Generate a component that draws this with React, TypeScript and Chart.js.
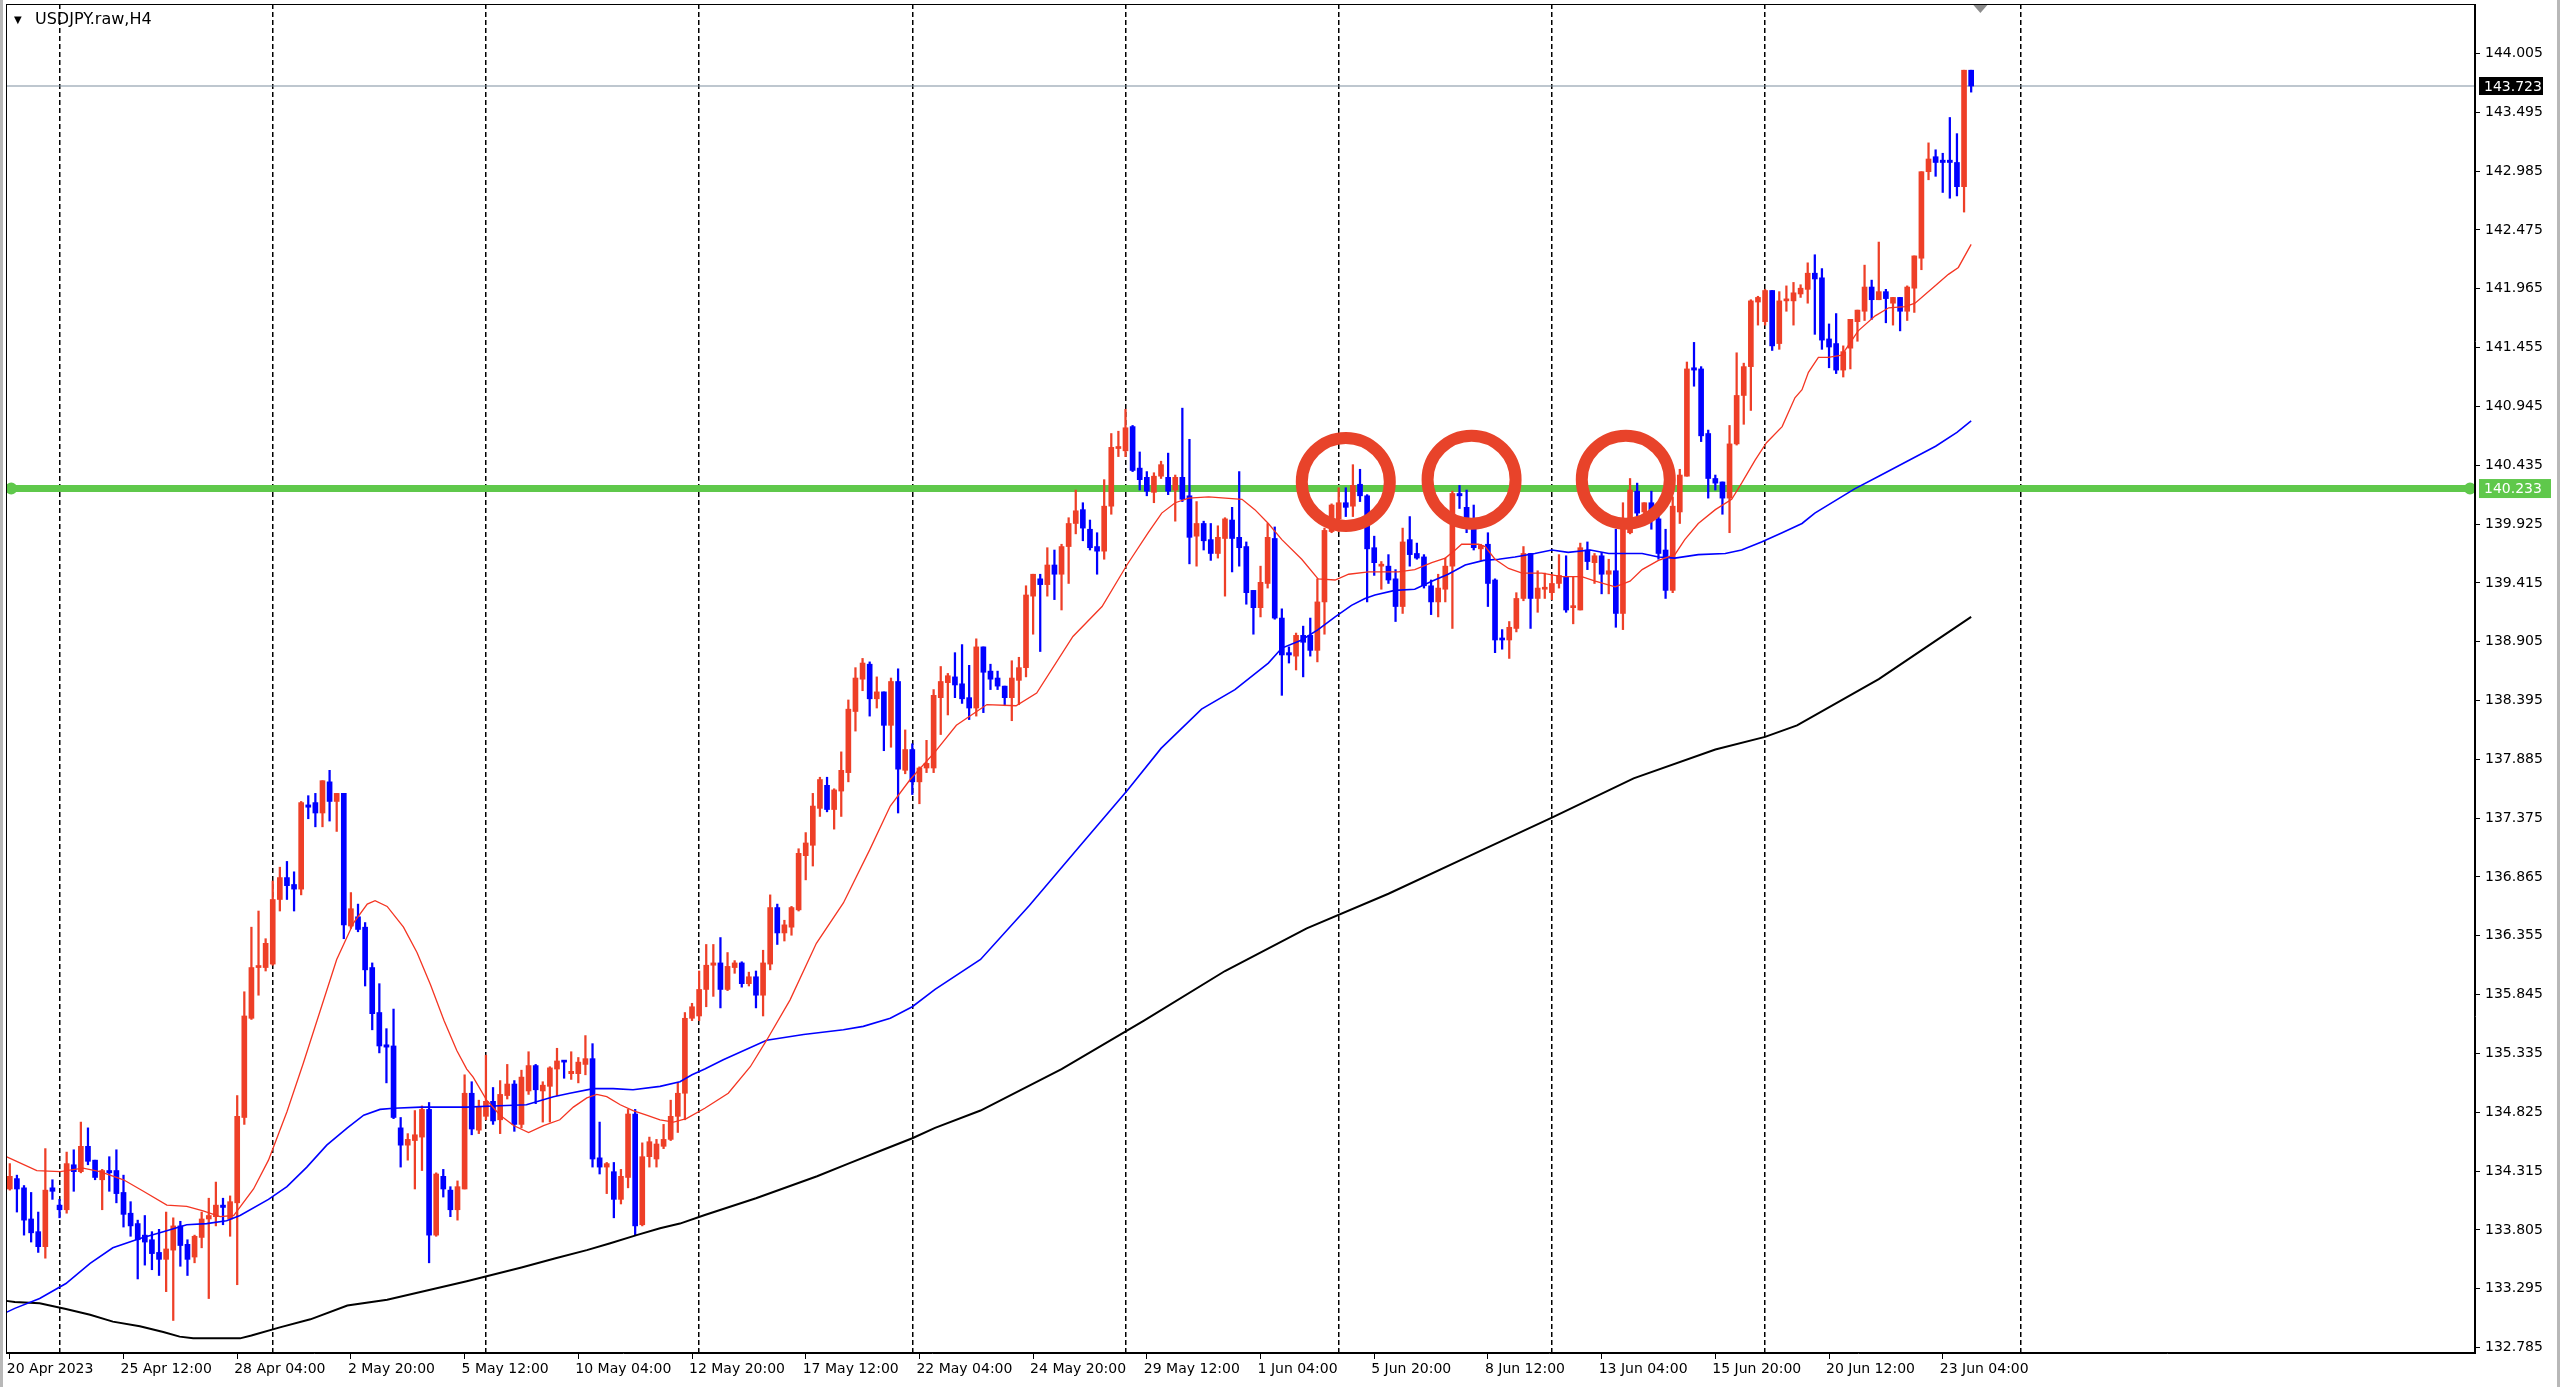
import React, { useEffect, useRef } from 'react';
import { Chart, registerables } from 'chart.js';

Chart.register(...registerables);

const TITLE = 'USDJPY.raw,H4';

const OPEN = [
  134.16, 134.25, 134.17, 133.90, 133.79, 133.66, 134.17, 134.02, 133.98, 134.37,
  134.31, 134.53, 134.41, 134.24, 134.32, 134.32, 134.13, 133.95, 133.86, 133.76,
  133.72, 133.61, 133.55, 133.63, 133.84, 133.68, 133.57, 133.74, 133.90, 133.92,
  134.02, 133.90, 134.04, 134.78, 135.64, 136.08, 136.08, 136.11, 136.67, 136.86,
  136.80, 136.76, 137.49, 137.51, 137.42, 137.69, 137.52, 137.59, 136.44, 136.52,
  136.43, 136.08, 135.69, 135.41, 135.40, 134.69, 134.54, 134.58, 134.61, 134.85,
  133.76, 134.27, 134.15, 133.98, 134.16, 134.99, 134.67, 134.79, 134.92, 134.76,
  134.97, 135.07, 134.72, 135.01, 135.23, 135.01, 135.05, 135.20, 135.27, 135.16,
  135.16, 135.24, 135.29, 134.43, 134.35, 134.31, 134.07, 134.26, 134.81, 133.85,
  134.44, 134.42, 134.53, 134.59, 134.79, 134.99, 135.64, 135.66, 135.89, 136.10,
  136.12, 135.89, 136.08, 136.12, 135.94, 136.00, 135.84, 136.11, 136.60, 136.38,
  136.43, 136.58, 137.05, 137.14, 137.46, 137.66, 137.45, 137.61, 137.77, 138.30,
  138.58, 138.71, 138.41, 138.47, 138.18, 138.56, 137.79, 137.97, 137.69, 137.81,
  137.81, 138.42, 138.55, 138.60, 138.54, 138.42, 138.33, 138.86, 138.65, 138.59,
  138.52, 138.42, 138.57, 138.68, 139.30, 139.45, 139.40, 139.57, 139.49, 139.73,
  139.93, 140.05, 139.88, 139.73, 139.69, 140.08, 140.58, 140.56, 140.77, 140.41,
  140.33, 140.20, 140.34, 140.33, 140.22, 140.33, 140.17, 139.82, 139.93, 139.79,
  139.67, 139.80, 139.96, 139.81, 139.73, 139.35, 139.20, 139.41, 139.80, 139.11,
  138.81, 138.78, 138.96, 138.96, 138.83, 139.25, 139.86, 139.97, 140.11, 140.08,
  140.27, 140.17, 139.72, 139.56, 139.56, 139.45, 139.21, 139.79, 139.67, 139.64,
  139.39, 139.25, 139.36, 139.56, 140.19, 140.07, 139.89, 139.71, 139.75, 139.44,
  138.93, 138.92, 139.02, 139.28, 139.67, 139.28, 139.36, 139.33, 139.41, 139.47,
  139.20, 139.18, 139.70, 139.59, 139.65, 139.49, 139.52, 139.15, 139.85, 140.21,
  140.03, 140.11, 139.97, 139.70, 139.35, 140.03, 140.34, 141.28, 141.27, 140.71,
  140.32, 140.29, 140.15, 140.62, 141.04, 141.29, 141.85, 141.68, 141.95, 141.49,
  141.86, 141.86, 141.92, 141.96, 142.10, 142.06, 141.53, 141.49, 141.26, 141.45,
  141.68, 141.77, 141.98, 141.87, 141.94, 141.84, 141.89, 141.77, 141.97, 142.23,
  142.98, 143.11, 143.08, 143.08, 143.06, 142.85, 143.86,
];

const HIGH = [
  134.38, 134.28, 134.19, 134.13, 133.96, 134.51, 134.24, 134.07, 134.48, 134.50,
  134.74, 134.69, 134.41, 134.33, 134.44, 134.50, 134.28, 134.05, 133.89, 133.93,
  133.79, 133.81, 133.96, 133.91, 133.88, 133.72, 133.76, 133.96, 134.08, 134.22,
  134.08, 134.10, 134.97, 135.87, 136.43, 136.57, 136.33, 136.83, 136.95, 137.00,
  136.91, 137.52, 137.57, 137.59, 137.70, 137.79, 137.59, 137.59, 136.73, 136.63,
  136.47, 136.12, 135.94, 135.55, 135.72, 134.78, 134.64, 134.84, 134.88, 134.91,
  134.30, 134.33, 134.18, 134.23, 135.15, 135.09, 134.93, 135.32, 135.04, 135.10,
  135.24, 135.10, 135.19, 135.35, 135.24, 135.09, 135.22, 135.38, 135.27, 135.35,
  135.30, 135.49, 135.42, 134.74, 134.39, 134.39, 134.33, 134.85, 134.85, 134.56,
  134.61, 134.59, 134.72, 134.93, 135.08, 135.69, 135.77, 136.05, 136.28, 136.28,
  136.34, 136.21, 136.14, 136.13, 136.04, 136.05, 136.23, 136.71, 136.63, 136.49,
  136.61, 137.11, 137.25, 137.59, 137.73, 137.73, 137.63, 137.95, 138.40, 138.68,
  138.76, 138.73, 138.60, 138.47, 138.59, 138.67, 138.14, 138.02, 137.82, 138.05,
  138.49, 138.69, 138.63, 138.81, 138.88, 138.70, 138.93, 138.86, 138.71, 138.65,
  138.52, 138.74, 138.77, 139.39, 139.49, 139.49, 139.72, 139.70, 139.75, 139.98,
  140.22, 140.11, 139.96, 139.85, 140.31, 140.71, 140.73, 140.92, 140.78, 140.55,
  140.38, 140.37, 140.47, 140.54, 140.35, 140.93, 140.66, 140.12, 139.95, 139.93,
  139.91, 139.98, 140.07, 140.38, 139.77, 139.35, 139.56, 139.93, 139.90, 139.19,
  138.86, 138.98, 139.04, 139.11, 139.45, 139.89, 140.10, 140.24, 140.24, 140.44,
  140.40, 140.18, 139.82, 139.60, 139.66, 139.53, 139.89, 139.99, 139.76, 139.66,
  139.44, 139.49, 139.63, 140.21, 140.26, 140.22, 140.09, 139.75, 139.85, 139.45,
  139.01, 139.08, 139.33, 139.73, 139.67, 139.52, 139.50, 139.49, 139.66, 139.65,
  139.47, 139.76, 139.77, 139.67, 139.68, 139.62, 139.88, 140.11, 140.32, 140.28,
  140.11, 140.21, 140.02, 139.88, 140.16, 140.40, 141.33, 141.50, 141.29, 140.74,
  140.35, 140.29, 140.78, 141.41, 141.32, 141.87, 141.90, 141.96, 141.95, 141.94,
  141.99, 142.02, 142.00, 142.19, 142.26, 142.14, 141.66, 141.75, 141.47, 141.70,
  141.78, 142.17, 142.04, 142.37, 141.96, 141.89, 141.89, 141.99, 142.25, 142.98,
  143.23, 143.17, 143.14, 143.45, 143.31, 143.86, 143.86,
];

const LOW = [
  134.15, 133.96, 133.76, 133.70, 133.61, 133.56, 134.07, 133.91, 133.95, 134.14,
  134.30, 134.37, 134.24, 133.98, 134.14, 134.04, 133.83, 133.75, 133.38, 133.50,
  133.46, 133.41, 133.27, 133.02, 133.49, 133.41, 133.52, 133.65, 133.21, 133.84,
  133.85, 133.75, 133.33, 134.72, 135.63, 135.84, 136.05, 136.10, 136.57, 136.67,
  136.57, 136.71, 137.37, 137.30, 137.30, 137.35, 137.26, 136.33, 136.42, 136.39,
  135.92, 135.54, 135.34, 135.08, 134.77, 134.35, 134.41, 134.16, 134.32, 133.52,
  133.75, 134.09, 133.92, 133.89, 134.16, 134.63, 134.64, 134.76, 134.72, 134.64,
  134.94, 134.66, 134.69, 134.98, 134.90, 134.74, 134.74, 134.97, 135.12, 135.11,
  135.08, 135.15, 134.35, 134.29, 134.12, 133.91, 134.03, 134.17, 133.76, 133.84,
  134.35, 134.35, 134.51, 134.58, 134.65, 134.76, 135.62, 135.62, 135.74, 135.83,
  135.73, 135.88, 136.03, 135.91, 135.92, 135.73, 135.66, 136.06, 136.28, 136.31,
  136.36, 136.57, 136.84, 136.96, 137.39, 137.43, 137.28, 137.39, 137.69, 138.13,
  138.48, 138.26, 138.33, 137.96, 137.99, 137.42, 137.76, 137.58, 137.50, 137.77,
  137.77, 138.10, 138.27, 138.42, 138.37, 138.23, 138.26, 138.29, 138.49, 138.49,
  138.35, 138.22, 138.36, 138.60, 138.97, 138.82, 139.30, 139.27, 139.18, 139.41,
  139.84, 139.78, 139.70, 139.49, 139.62, 140.01, 140.51, 140.51, 140.38, 140.22,
  140.17, 140.11, 140.32, 140.18, 139.95, 140.12, 139.58, 139.56, 139.70, 139.61,
  139.63, 139.30, 139.51, 139.56, 139.23, 138.97, 139.12, 139.37, 139.10, 138.44,
  138.72, 138.66, 138.60, 138.78, 138.73, 138.97, 139.85, 139.86, 139.99, 139.99,
  140.12, 139.25, 139.48, 139.36, 139.41, 139.08, 139.15, 139.56, 139.62, 139.37,
  139.14, 139.12, 139.25, 139.02, 140.06, 139.85, 139.70, 139.61, 139.21, 138.81,
  138.84, 138.76, 138.99, 139.26, 139.02, 139.16, 139.28, 139.27, 139.37, 139.16,
  139.06, 139.18, 139.53, 139.41, 139.32, 139.32, 139.03, 139.01, 139.84, 139.99,
  139.98, 139.88, 139.62, 139.28, 139.33, 139.93, 140.34, 141.12, 140.64, 140.15,
  140.22, 140.01, 139.85, 140.61, 140.79, 140.91, 141.65, 141.65, 141.43, 141.44,
  141.77, 141.65, 141.89, 141.84, 141.57, 141.44, 141.28, 141.23, 141.20, 141.27,
  141.51, 141.69, 141.70, 141.87, 141.67, 141.65, 141.60, 141.69, 141.76, 142.13,
  142.91, 142.94, 142.80, 142.75, 142.77, 142.63, 143.67,
];

const CLOSE = [
  134.27, 134.16, 133.89, 133.78, 133.66, 134.15, 134.14, 133.98, 134.38, 134.31,
  134.53, 134.40, 134.26, 134.32, 134.30, 134.12, 133.94, 133.84, 133.72, 133.70,
  133.60, 133.55, 133.64, 133.84, 133.67, 133.55, 133.75, 133.90, 133.93, 134.02,
  134.00, 134.05, 134.79, 135.66, 136.08, 136.09, 136.29, 136.67, 136.86, 136.79,
  136.76, 137.51, 137.47, 137.42, 137.70, 137.52, 137.59, 136.45, 136.59, 136.41,
  136.06, 135.68, 135.40, 135.39, 134.78, 134.54, 134.59, 134.63, 134.85, 133.76,
  134.29, 134.16, 133.98, 134.18, 134.99, 134.68, 134.87, 134.92, 134.75, 134.98,
  135.07, 134.72, 135.13, 135.23, 135.02, 135.06, 135.21, 135.27, 135.26, 135.18,
  135.26, 135.29, 134.42, 134.35, 134.38, 134.07, 134.27, 134.81, 133.84, 134.44,
  134.57, 134.55, 134.59, 134.79, 134.99, 135.64, 135.74, 135.89, 136.10, 136.12,
  135.89, 136.09, 136.12, 135.94, 136.00, 135.84, 136.12, 136.60, 136.38, 136.45,
  136.60, 137.07, 137.16, 137.48, 137.71, 137.45, 137.62, 137.79, 138.32, 138.59,
  138.72, 138.41, 138.47, 138.18, 138.56, 137.80, 137.97, 137.69, 137.81, 137.85,
  138.44, 138.56, 138.61, 138.53, 138.41, 138.33, 138.86, 138.64, 138.58, 138.52,
  138.42, 138.59, 138.68, 139.31, 139.49, 139.40, 139.57, 139.49, 139.73, 139.93,
  140.04, 139.89, 139.72, 139.69, 140.08, 140.59, 140.59, 140.76, 140.39, 140.31,
  140.21, 140.34, 140.44, 140.21, 140.33, 140.14, 139.81, 139.93, 139.78, 139.67,
  139.81, 139.97, 139.80, 139.72, 139.33, 139.20, 139.42, 139.81, 139.11, 138.79,
  138.79, 138.96, 138.90, 138.83, 139.25, 139.87, 140.09, 140.11, 140.07, 140.26,
  140.17, 139.71, 139.59, 139.57, 139.44, 139.21, 139.77, 139.66, 139.63, 139.39,
  139.25, 139.37, 139.56, 140.19, 140.17, 139.98, 139.72, 139.74, 139.41, 138.92,
  138.92, 139.03, 139.28, 139.67, 139.28, 139.37, 139.37, 139.41, 139.48, 139.18,
  139.21, 139.72, 139.60, 139.65, 139.49, 139.52, 139.15, 139.88, 140.22, 140.02,
  140.11, 139.97, 139.67, 139.35, 140.08, 140.35, 141.27, 141.26, 140.69, 140.32,
  140.28, 140.15, 140.62, 141.04, 141.29, 141.86, 141.89, 141.95, 141.47, 141.86,
  141.87, 141.93, 141.97, 142.10, 142.05, 141.52, 141.46, 141.26, 141.42, 141.70,
  141.78, 141.98, 141.87, 141.94, 141.88, 141.89, 141.77, 141.98, 142.25, 142.98,
  143.09, 143.06, 143.06, 143.06, 142.85, 143.86, 143.723,
];

// moving averages: [bar, price]
const RED_MA = [
  [-0.5, 134.44], [3.8, 134.32], [7.1, 134.31], [10.3, 134.34], [12.7, 134.31], [16, 134.24],
  [18.8, 134.14], [22.1, 134.02], [24.9, 134.01], [27.2, 133.97], [29.6, 133.92], [31.5, 133.93],
  [34.3, 134.16], [36.4, 134.41], [39, 134.83], [41.3, 135.25], [43.7, 135.71], [46, 136.15],
  [48.4, 136.47], [50.3, 136.63], [51.4, 136.66], [53.1, 136.61], [55.4, 136.43], [57.3, 136.21],
  [59.2, 135.93], [61.1, 135.62], [62.9, 135.36], [64.3, 135.2], [65.2, 135.13], [67.1, 134.93],
  [69, 134.8], [70.9, 134.71], [73, 134.65], [75.1, 134.71], [77.4, 134.76], [79.3, 134.87],
  [81.2, 134.95], [82.6, 134.98], [84, 134.96], [85.9, 134.89], [87.7, 134.84], [89.6, 134.8],
  [91.5, 134.76], [93.4, 134.74], [95.2, 134.77], [97.8, 134.86], [101.1, 134.99], [104.2, 135.22],
  [106.5, 135.45], [109.8, 135.8], [113.5, 136.29], [117.3, 136.64], [121, 137.1], [123.9, 137.48],
  [126.7, 137.71], [130.2, 137.95], [133.2, 138.18], [137.5, 138.36], [141.6, 138.35], [144.5, 138.46],
  [149.6, 138.95], [153.7, 139.21], [157.2, 139.57], [160.2, 139.85], [162.1, 140.02], [164, 140.11],
  [165.9, 140.15], [168.7, 140.16], [173.4, 140.14], [175.2, 140.05], [177.1, 139.93], [179, 139.79],
  [181.8, 139.62], [184.1, 139.45], [186.5, 139.44], [188.4, 139.49], [191.2, 139.51], [195.4, 139.51],
  [197.7, 139.53], [200.1, 139.59], [202, 139.63], [203.4, 139.7], [204.3, 139.75], [206.7, 139.75],
  [207.6, 139.73], [209, 139.62], [210.9, 139.54], [212.8, 139.5], [215.6, 139.5], [218.4, 139.47],
  [221.2, 139.47], [223.1, 139.43], [225.9, 139.38], [228, 139.43], [229.7, 139.53], [232, 139.61],
  [234.3, 139.66], [235.7, 139.79], [237.6, 139.93], [240, 140.05], [242.3, 140.14], [243.7, 140.28],
  [245.6, 140.48], [247.2, 140.63], [249.4, 140.77], [251.2, 141.02], [252.2, 141.09], [253.1, 141.24],
  [254.5, 141.37], [255.9, 141.37], [257.8, 141.39], [260.1, 141.6], [262.5, 141.73], [264.4, 141.8],
  [266.7, 141.81], [268.1, 141.84], [270.9, 141.99], [272.8, 142.09], [274.2, 142.15], [276, 142.35],
];

const BLUE_MA = [
  [-0.5, 133.09], [0.7, 133.125], [4.2, 133.21], [7.9, 133.34], [11.3, 133.515], [14.5, 133.65],
  [18.3, 133.73], [21.6, 133.79], [24.9, 133.85], [27.7, 133.86], [30.5, 133.885], [32.4, 133.93],
  [36.4, 134.07], [39, 134.18], [41.8, 134.35], [44.6, 134.54], [47.5, 134.69], [49.8, 134.8],
  [52.1, 134.85], [54, 134.86], [57.8, 134.87], [62.5, 134.87], [64.3, 134.87], [68, 134.88],
  [72.7, 134.89], [76.5, 134.96], [78.8, 134.99], [82.1, 135.03], [84.9, 135.03], [87.7, 135.02],
  [91.5, 135.05], [94.3, 135.09], [96, 135.15], [97.8, 135.2], [100.4, 135.28], [106.5, 135.45],
  [111.7, 135.5], [117.3, 135.54], [120.1, 135.57], [123.9, 135.64], [127, 135.74], [130.2, 135.89],
  [136.6, 136.15], [143.5, 136.62], [150.4, 137.12], [157.3, 137.62], [162, 137.98], [167.7, 138.32],
  [172.4, 138.49], [177.1, 138.72], [179, 138.85], [181.8, 138.92], [184.1, 139.01], [186.5, 139.12],
  [188.8, 139.22], [190.7, 139.28], [192.1, 139.31], [194.9, 139.35], [197.7, 139.36], [200.1, 139.43],
  [202.4, 139.49], [204.8, 139.57], [207.4, 139.61], [209.5, 139.62], [211.8, 139.64], [214.6, 139.67],
  [217, 139.7], [219.3, 139.68], [222.4, 139.7], [225, 139.67], [229.7, 139.67], [232, 139.64],
  [234.3, 139.63], [237.6, 139.66], [241.4, 139.67], [243.7, 139.7], [246.5, 139.77], [249.4, 139.85],
  [252.2, 139.93], [254, 140.02], [259.6, 140.23], [263, 140.34], [267, 140.47], [271, 140.6],
  [274, 140.72], [276, 140.82],
];

const BLACK_MA = [
  [-0.5, 133.19], [0.7, 133.18], [4.2, 133.17], [7.9, 133.12], [11.3, 133.07], [14.5, 133.01],
  [18.3, 132.97], [21.6, 132.92], [23.9, 132.88], [25.8, 132.865], [29.6, 132.865], [32.4, 132.865],
  [34, 132.89], [38, 132.96], [42.3, 133.03], [47.5, 133.15], [53.1, 133.2], [58.7, 133.28],
  [64.3, 133.36], [72, 133.48], [76.8, 133.56], [81.2, 133.63], [84.5, 133.69], [88.2, 133.76],
  [91.5, 133.82], [94.3, 133.86], [97.8, 133.935], [105, 134.08], [113.6, 134.27], [118, 134.38],
  [122.9, 134.5], [127, 134.6], [130.2, 134.69], [136.6, 134.84], [148, 135.2], [159.6, 135.62],
  [171, 136.05], [182.5, 136.42], [194, 136.72], [205.5, 137.05], [217, 137.38], [228.5, 137.72],
  [240, 137.97], [247, 138.08], [251.5, 138.18], [263, 138.58], [276, 139.12],
];

const X_LABELS = [
  '20 Apr 2023', '25 Apr 12:00', '28 Apr 04:00', '2 May 20:00', '5 May 12:00', '10 May 04:00',
  '12 May 20:00', '17 May 12:00', '22 May 04:00', '24 May 20:00', '29 May 12:00', '1 Jun 04:00',
  '5 Jun 20:00', '8 Jun 12:00', '13 Jun 04:00', '15 Jun 20:00', '20 Jun 12:00', '23 Jun 04:00',
];
const X_LABEL_BARS = [0, 16, 32, 48, 64, 80, 96, 112, 128, 144, 160, 176, 192, 208, 224, 240, 256, 272];
const WEEK_GRID_BARS = [7, 37, 67, 97, 127, 157, 187, 217, 247, 283];

const Y_TICKS = [
  132.785, 133.295, 133.805, 134.315, 134.825, 135.335, 135.845, 136.355, 136.865, 137.375,
  137.885, 138.395, 138.905, 139.415, 139.925, 140.435, 140.945, 141.455, 141.965, 142.475,
  142.985, 143.495, 144.005,
];

const BID = 143.723;
const LEVEL = 140.233;
const LEVEL_ENDS = [0.2, 346.2];
const CIRCLES = [[188.0, 140.29], [205.7, 140.31], [227.4, 140.31]];
const X_RANGE = [-0.535, 346.9];
const Y_RANGE = [132.738, 144.434];
const SHIFT_BAR = 277.3;

const BULL = '#EE3F27';
const BEAR = '#0000FF';
const LEVEL_COLOR = '#5FC84B';
const FONT = '"DejaVu Sans"';

const isBull = (i: number) => CLOSE[i] >= OPEN[i];

const framePlugin = {
  id: 'mt5Frame',
  beforeDraw(chart: any) {
    const { ctx, width, height } = chart;
    ctx.save();
    ctx.fillStyle = '#ffffff';
    ctx.fillRect(0, 0, width, height);
    ctx.fillStyle = '#b8b8b8';
    ctx.fillRect(0, 0, 3, height);
    ctx.fillRect(width - 3, 0, 3, height);
    ctx.restore();
  },
  afterDraw(chart: any) {
    const { ctx, chartArea: a, scales } = chart;
    ctx.save();
    ctx.strokeStyle = '#000';
    ctx.lineWidth = 1;
    ctx.strokeRect(a.left + 0.5, a.top + 0.5, a.right - a.left - 1, a.bottom - a.top - 1);

    ctx.fillStyle = '#000';
    ctx.textBaseline = 'middle';
    ctx.textAlign = 'left';
    ctx.font = `10px ${FONT}`;
    ctx.fillText('\u25BC', a.left + 8, a.top + 16);
    ctx.font = `16px ${FONT}`;
    ctx.fillText(TITLE, a.left + 29, a.top + 16);

    const tag = (value: number, bg: string, w: number, h: number) => {
      const py = scales.y.getPixelForValue(value);
      ctx.fillStyle = bg;
      ctx.fillRect(a.right + 4, py - h / 2, w, h);
      ctx.fillStyle = '#fff';
      ctx.font = `14px ${FONT}`;
      ctx.textBaseline = 'middle';
      ctx.fillText(value.toFixed(3), a.right + 9, py + 1);
    };
    tag(BID, '#000', 64, 18);
    tag(LEVEL, LEVEL_COLOR, 72, 19);

    const sx = scales.x.getPixelForValue(SHIFT_BAR);
    ctx.fillStyle = '#8c8c8c';
    ctx.beginPath();
    ctx.moveTo(sx - 7, a.top + 1);
    ctx.lineTo(sx + 7, a.top + 1);
    ctx.lineTo(sx, a.top + 9);
    ctx.closePath();
    ctx.fill();
    ctx.restore();
  },
};

const noPad = (s: any) => {
  s.paddingTop = 0;
  s.paddingBottom = 0;
  s.paddingLeft = 0;
  s.paddingRight = 0;
};

export default function App() {
  const ref = useRef<HTMLCanvasElement>(null);

  useEffect(() => {
    if (!ref.current) return;
    Chart.defaults.font.family = FONT;
    Chart.defaults.color = '#000';

    const wicks = OPEN.map((_, i) => ({ x: i, y: [LOW[i], HIGH[i]] }));
    const bodies = OPEN.map((o, i) => ({ x: i, y: [Math.min(o, CLOSE[i]), Math.max(o, CLOSE[i])] }));
    const toPts = (arr: number[][]) => arr.map(([x, y]) => ({ x, y }));

    const chart = new Chart(ref.current, {
      type: 'bar',
      data: {
        datasets: [
          {
            type: 'scatter',
            data: CIRCLES.map(([x, y]) => ({ x, y })),
            pointRadius: 44,
            pointBorderWidth: 12,
            pointBorderColor: '#E8432A',
            pointBackgroundColor: 'rgba(0,0,0,0)',
            order: 0,
            xAxisID: 'x',
            yAxisID: 'y',
          } as any,
          {
            type: 'line',
            data: toPts(RED_MA),
            borderColor: '#F43522',
            borderWidth: 1.3,
            pointRadius: 0,
            tension: 0,
            order: 1,
            xAxisID: 'x',
            yAxisID: 'y',
          } as any,
          {
            type: 'line',
            data: toPts(BLUE_MA),
            borderColor: '#0000FF',
            borderWidth: 1.6,
            pointRadius: 0,
            tension: 0,
            order: 1,
            xAxisID: 'x',
            yAxisID: 'y',
          } as any,
          {
            type: 'line',
            data: toPts(BLACK_MA),
            borderColor: '#000000',
            borderWidth: 2,
            pointRadius: 0,
            tension: 0,
            order: 1,
            xAxisID: 'x',
            yAxisID: 'y',
          } as any,
          {
            type: 'bar',
            data: bodies,
            backgroundColor: (c: any) => (isBull(c.dataIndex) ? BULL : BEAR),
            barThickness: 5,
            minBarLength: 2,
            grouped: false,
            order: 3,
            xAxisID: 'x',
            yAxisID: 'y',
          } as any,
          {
            type: 'bar',
            data: wicks,
            backgroundColor: (c: any) => (isBull(c.dataIndex) ? BULL : BEAR),
            barThickness: 1.6,
            grouped: false,
            order: 4,
            xAxisID: 'x',
            yAxisID: 'y',
          } as any,
          {
            type: 'line',
            data: LEVEL_ENDS.map((x) => ({ x, y: LEVEL })),
            borderColor: LEVEL_COLOR,
            borderWidth: 7,
            pointRadius: 6,
            pointBackgroundColor: LEVEL_COLOR,
            pointBorderWidth: 0,
            order: 5,
            xAxisID: 'x',
            yAxisID: 'y',
          } as any,
          {
            type: 'line',
            data: X_RANGE.map((x) => ({ x, y: BID })),
            borderColor: '#7f8fa0',
            borderWidth: 1.2,
            pointRadius: 0,
            order: 6,
            xAxisID: 'x',
            yAxisID: 'y',
          } as any,
        ],
      },
      options: {
        animation: false,
        responsive: false,
        maintainAspectRatio: false,
        devicePixelRatio: 1,
        events: [],
        layout: { autoPadding: false, padding: { left: 6, top: 4, right: 0, bottom: 0 } },
        plugins: {
          legend: { display: false },
          tooltip: { enabled: false },
          title: { display: false },
        },
        scales: {
          x: {
            type: 'linear',
            position: 'bottom',
            min: X_RANGE[0],
            max: X_RANGE[1],
            bounds: 'data',
            offset: false,
            afterBuildTicks: (s: any) => {
              s.ticks = X_LABEL_BARS.map((v) => ({ value: v }));
            },
            afterFit: (s: any) => {
              s.height = 34;
              noPad(s);
            },
            ticks: {
              autoSkip: false,
              maxRotation: 0,
              minRotation: 0,
              align: 'start',
              labelOffset: -3,
              padding: 2,
              color: '#000',
              font: { family: FONT, size: 14 },
              callback: (_v: any, i: number) => X_LABELS[i],
            },
            grid: {
              display: true,
              drawOnChartArea: false,
              drawTicks: true,
              tickLength: 6,
              color: '#000',
              offset: false,
            },
            border: { display: true, color: '#000' },
          },
          x2: {
            type: 'linear',
            position: 'bottom',
            min: X_RANGE[0],
            max: X_RANGE[1],
            bounds: 'data',
            offset: false,
            afterBuildTicks: (s: any) => {
              s.ticks = WEEK_GRID_BARS.map((v) => ({ value: v }));
            },
            afterFit: (s: any) => {
              s.height = 0;
              noPad(s);
            },
            ticks: { display: false },
            grid: {
              display: true,
              drawOnChartArea: true,
              drawTicks: false,
              color: '#000',
              lineWidth: 1.5,
              offset: false,
            },
            border: { display: false, dash: [5, 3] },
          },
          y: {
            type: 'linear',
            position: 'right',
            min: Y_RANGE[0],
            max: Y_RANGE[1],
            bounds: 'data',
            afterBuildTicks: (s: any) => {
              s.ticks = Y_TICKS.map((v) => ({ value: v }));
            },
            afterFit: (s: any) => {
              s.width = 85;
              noPad(s);
            },
            ticks: {
              color: '#000',
              padding: 5,
              font: { family: FONT, size: 14 },
              callback: (v: any) => Number(v).toFixed(3),
            },
            grid: {
              display: true,
              drawOnChartArea: false,
              drawTicks: true,
              tickLength: 5,
              color: '#000',
            },
            border: { display: true, color: '#000' },
          },
        },
      } as any,
      plugins: [framePlugin],
    });

    return () => chart.destroy();
  }, []);

  return (
    <div style={{ position: 'fixed', left: 0, top: 0, width: 2560, height: 1387, background: '#fff' }}>
      <canvas ref={ref} width={2560} height={1387} style={{ display: 'block', width: 2560, height: 1387 }} />
    </div>
  );
}
